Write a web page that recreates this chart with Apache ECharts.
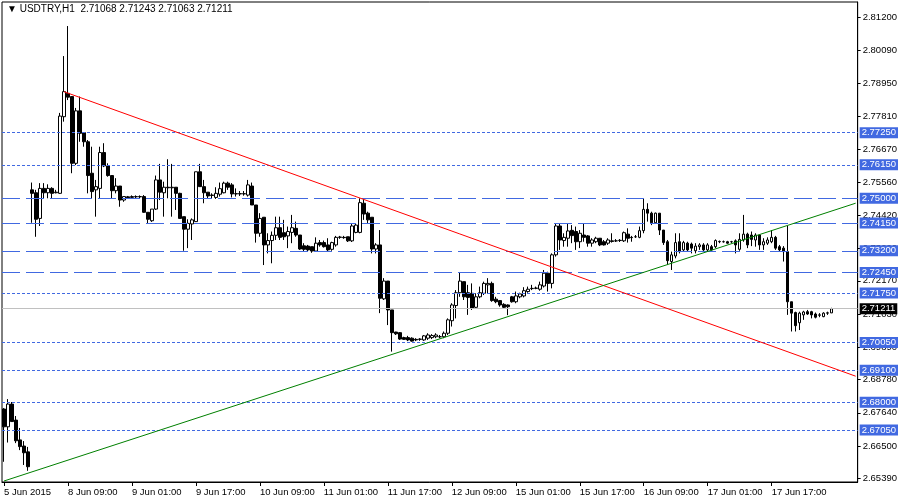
<!DOCTYPE html>
<html>
<head>
<meta charset="utf-8">
<script src="https://cdn.jsdelivr.net/npm/echarts@6/dist/echarts.min.js"></script>
<style>html,body{margin:0;padding:0;background:#fff}#c{width:900px;height:500px}</style>
</head>
<body>
<div id="c"></div>
<script>
// Trading sessions (day label, first hour, last hour) -> hourly categories
const sessions = [
  ['5 Jun', 17, 23], ['8 Jun', 0, 23], ['9 Jun', 0, 23], ['10 Jun', 0, 23],
  ['11 Jun', 0, 23], ['12 Jun', 0, 23], ['15 Jun', 0, 23], ['16 Jun', 0, 23],
  ['17 Jun', 0, 23], ['18 Jun', 0, 14]
];
const firstLabel = '5 Jun 2015';
const labelEvery = 16;
const lastLabelIndex = 192;

const opens = [
2.6777,2.6716,2.6794,2.6739,2.6671,2.6650,2.6630,2.7529,2.7519,2.7431,
2.7534,2.7519,2.7534,2.7519,2.7517,2.7780,2.7860,2.7849,2.7620,2.7800,
2.7725,2.7694,2.7586,2.7529,2.7534,2.7657,2.7611,2.7578,2.7526,2.7542,
2.7494,2.7505,2.7503,2.7505,2.7506,2.7506,2.7452,2.7423,2.7463,2.7563,
2.7519,2.7538,2.7536,2.7538,2.7517,2.7437,2.7394,2.7412,2.7420,2.7591,
2.7540,2.7521,2.7511,2.7503,2.7514,2.7519,2.7552,2.7546,2.7515,2.7516,
2.7515,2.7511,2.7542,2.7477,2.7380,2.7435,2.7340,2.7355,2.7373,2.7399,
2.7382,2.7371,2.7383,2.7397,2.7374,2.7337,2.7336,2.7334,2.7319,2.7348,
2.7348,2.7340,2.7325,2.7340,2.7366,2.7366,2.7368,2.7354,2.7383,2.7383,
2.7483,2.7449,2.7435,2.7326,2.7340,2.7155,2.7216,2.7117,2.7041,2.7039,
2.7022,2.7022,2.7020,2.7016,2.7016,2.7014,2.7020,2.7022,2.7025,2.7025,
2.7025,2.7037,2.7080,2.7132,2.7176,2.7214,2.7176,2.7174,2.7126,2.7162,
2.7174,2.7203,2.7208,2.7154,2.7149,2.7136,2.7134,2.7162,2.7145,2.7162,
2.7165,2.7180,2.7190,2.7191,2.7188,2.7199,2.7243,2.7208,2.7306,2.7405,
2.7355,2.7363,2.7390,2.7386,2.7351,2.7374,2.7371,2.7346,2.7351,2.7363,
2.7351,2.7346,2.7354,2.7354,2.7355,2.7354,2.7377,2.7366,2.7368,2.7366,
2.7389,2.7462,2.7449,2.7416,2.7449,2.7391,2.7351,2.7283,2.7302,2.7351,
2.7323,2.7346,2.7343,2.7320,2.7334,2.7340,2.7323,2.7334,2.7334,2.7351,
2.7351,2.7351,2.7351,2.7354,2.7325,2.7357,2.7377,2.7374,2.7357,2.7374,
2.7340,2.7346,2.7351,2.7366,2.7334,2.7329,2.7317,2.7145,2.7108,2.7073,
2.7100,2.7111,2.7111,2.7103,2.7100,2.7094,2.7106,2.71068
];
const highs = [
2.6780,2.6811,2.6801,2.6753,2.6712,2.6667,2.6647,2.7554,2.7529,2.7552,
2.7552,2.7548,2.7538,2.7529,2.7793,2.7988,2.8091,2.7849,2.7810,2.7849,
2.7725,2.7700,2.7677,2.7563,2.7677,2.7689,2.7620,2.7578,2.7569,2.7542,
2.7506,2.7508,2.7510,2.7510,2.7510,2.7511,2.7452,2.7463,2.7578,2.7618,
2.7557,2.7634,2.7618,2.7538,2.7519,2.7437,2.7428,2.7431,2.7591,2.7618,
2.7563,2.7521,2.7517,2.7538,2.7554,2.7557,2.7557,2.7552,2.7534,2.7525,
2.7525,2.7563,2.7554,2.7477,2.7449,2.7435,2.7380,2.7386,2.7437,2.7437,
2.7426,2.7403,2.7443,2.7420,2.7374,2.7346,2.7340,2.7334,2.7366,2.7357,
2.7355,2.7363,2.7351,2.7371,2.7371,2.7371,2.7368,2.7412,2.7414,2.7500,
2.7497,2.7454,2.7435,2.7346,2.7391,2.7226,2.7216,2.7117,2.7042,2.7041,
2.7025,2.7028,2.7023,2.7020,2.7020,2.7031,2.7037,2.7034,2.7037,2.7031,
2.7043,2.7088,2.7140,2.7185,2.7245,2.7214,2.7203,2.7208,2.7174,2.7197,
2.7214,2.7226,2.7214,2.7162,2.7151,2.7140,2.7136,2.7165,2.7180,2.7176,
2.7195,2.7197,2.7203,2.7197,2.7214,2.7254,2.7248,2.7311,2.7414,2.7414,
2.7380,2.7414,2.7408,2.7403,2.7391,2.7414,2.7374,2.7363,2.7368,2.7363,
2.7357,2.7363,2.7380,2.7360,2.7360,2.7386,2.7397,2.7371,2.7374,2.7403,
2.7500,2.7483,2.7454,2.7451,2.7449,2.7391,2.7357,2.7317,2.7380,2.7380,
2.7354,2.7351,2.7348,2.7346,2.7346,2.7346,2.7346,2.7340,2.7359,2.7355,
2.7355,2.7354,2.7354,2.7359,2.7380,2.7443,2.7382,2.7386,2.7380,2.7374,
2.7363,2.7366,2.7391,2.7371,2.7340,2.7336,2.7405,2.7145,2.7111,2.7111,
2.7114,2.7117,2.7114,2.7108,2.7106,2.7109,2.7111,2.71243
];
const lows = [
2.6596,2.6662,2.6734,2.6660,2.6636,2.6585,2.6565,2.7416,2.7368,2.7405,
2.7500,2.7500,2.7500,2.7517,2.7515,2.7763,2.7837,2.7586,2.7614,2.7694,
2.7677,2.7517,2.7500,2.7437,2.7500,2.7607,2.7574,2.7500,2.7517,2.7471,
2.7488,2.7499,2.7500,2.7501,2.7500,2.7450,2.7412,2.7419,2.7460,2.7494,
2.7437,2.7500,2.7437,2.7460,2.7431,2.7320,2.7329,2.7357,2.7420,2.7540,
2.7483,2.7500,2.7498,2.7498,2.7506,2.7517,2.7529,2.7503,2.7506,2.7508,
2.7509,2.7506,2.7477,2.7348,2.7368,2.7271,2.7311,2.7277,2.7357,2.7357,
2.7357,2.7329,2.7346,2.7368,2.7323,2.7317,2.7317,2.7313,2.7317,2.7334,
2.7331,2.7319,2.7320,2.7334,2.7361,2.7361,2.7350,2.7350,2.7380,2.7380,
2.7426,2.7414,2.7311,2.7311,2.7106,2.7151,2.7065,2.6974,2.7031,2.7014,
2.7014,2.7010,2.7008,2.7010,2.7011,2.7011,2.7014,2.7017,2.7020,2.7020,
2.7020,2.7031,2.7060,2.7088,2.7162,2.7151,2.7100,2.7117,2.7123,2.7157,
2.7168,2.7174,2.7145,2.7140,2.7128,2.7123,2.7099,2.7142,2.7140,2.7157,
2.7160,2.7176,2.7185,2.7188,2.7183,2.7194,2.7180,2.7191,2.7300,2.7323,
2.7334,2.7334,2.7346,2.7323,2.7329,2.7351,2.7334,2.7334,2.7346,2.7336,
2.7338,2.7340,2.7348,2.7350,2.7350,2.7350,2.7348,2.7351,2.7364,2.7363,
2.7380,2.7420,2.7408,2.7412,2.7374,2.7340,2.7271,2.7254,2.7294,2.7311,
2.7317,2.7317,2.7311,2.7311,2.7323,2.7319,2.7317,2.7320,2.7329,2.7346,
2.7348,2.7344,2.7347,2.7311,2.7320,2.7351,2.7329,2.7336,2.7334,2.7323,
2.7323,2.7340,2.7346,2.7323,2.7317,2.7283,2.7100,2.7043,2.7043,2.7048,
2.7083,2.7100,2.7088,2.7088,2.7092,2.7092,2.7100,2.71063
];
const closes = [
2.6716,2.6794,2.6734,2.6668,2.6648,2.6627,2.6579,2.7517,2.7428,2.7534,
2.7519,2.7534,2.7517,2.7521,2.7782,2.7866,2.7847,2.7620,2.7800,2.7723,
2.7694,2.7578,2.7523,2.7540,2.7657,2.7611,2.7578,2.7526,2.7542,2.7494,
2.7506,2.7502,2.7506,2.7506,2.7505,2.7452,2.7428,2.7463,2.7563,2.7521,
2.7538,2.7536,2.7538,2.7517,2.7431,2.7394,2.7414,2.7426,2.7591,2.7540,
2.7519,2.7508,2.7510,2.7517,2.7533,2.7552,2.7538,2.7515,2.7516,2.7515,
2.7516,2.7546,2.7477,2.7380,2.7431,2.7340,2.7355,2.7373,2.7399,2.7366,
2.7368,2.7386,2.7399,2.7374,2.7326,2.7325,2.7323,2.7319,2.7346,2.7340,
2.7334,2.7323,2.7348,2.7366,2.7367,2.7365,2.7354,2.7405,2.7408,2.7485,
2.7446,2.7426,2.7326,2.7340,2.7157,2.7216,2.7117,2.7039,2.7035,2.7017,
2.7016,2.7014,2.7010,2.7014,2.7017,2.7028,2.7031,2.7029,2.7031,2.7025,
2.7037,2.7083,2.7134,2.7176,2.7216,2.7162,2.7160,2.7123,2.7162,2.7176,
2.7208,2.7208,2.7149,2.7145,2.7134,2.7126,2.7128,2.7145,2.7165,2.7172,
2.7183,2.7188,2.7191,2.7192,2.7203,2.7243,2.7208,2.7306,2.7405,2.7357,
2.7366,2.7388,2.7372,2.7351,2.7380,2.7366,2.7346,2.7357,2.7363,2.7340,
2.7340,2.7357,2.7352,2.7354,2.7356,2.7382,2.7363,2.7365,2.7368,2.7389,
2.7462,2.7449,2.7416,2.7449,2.7391,2.7348,2.7286,2.7306,2.7348,2.7317,
2.7348,2.7323,2.7329,2.7336,2.7340,2.7323,2.7340,2.7323,2.7355,2.7352,
2.7351,2.7346,2.7351,2.7340,2.7359,2.7377,2.7340,2.7359,2.7374,2.7340,
2.7351,2.7357,2.7366,2.7329,2.7323,2.7317,2.7145,2.7106,2.7063,2.7106,
2.7110,2.7103,2.7100,2.7092,2.7099,2.7106,2.7107,2.71211
];

// Price-axis tick labels
const yTicks = [2.81200,2.80090,2.78950,2.77810,2.76670,2.75560,2.74420,2.73290,
                2.72170,2.71030,2.69890,2.68780,2.67640,2.66500,2.65390];
const yMin = 2.65266, yMax = 2.81735;

// Horizontal levels
const keyLevels = [2.75000, 2.74150, 2.73200, 2.72450];
const minorLevels = [2.77250, 2.76150, 2.71750, 2.70050, 2.69100, 2.68000, 2.67050];
const lastPrice = 2.71211;

// Trend lines: [category index, price]
const resistanceLine = [[15, 2.78657], [213, 2.68896]];
const supportLine = [[0, 2.65300], [213, 2.74832]];

const header = '\u25BC USDTRY,H1  2.71068 2.71243 2.71063 2.71211';

// ---- build ----
const categories = [];
sessions.forEach(function (s) {
  for (let h = s[1]; h <= s[2]; h++) {
    categories.push(s[0] + ' ' + (h < 10 ? '0' : '') + h + ':00');
  }
});
const candles = opens.map(function (o, i) { return [o, closes[i], lows[i], highs[i]]; });

const FONT = 'Liberation Sans';
const BLUE = '#4169E1';
const showIdx = function (i) { return i % labelEvery === 0 && i <= lastLabelIndex; };

function levelItem(v, dash) {
  return {
    yAxis: v,
    lineStyle: { color: BLUE, width: 1, type: dash },
    label: {
      show: true, position: 'end', distance: 2,
      formatter: function () { return v.toFixed(5); },
      color: '#fff', backgroundColor: BLUE, padding: [1, 2, 0, 2],
      fontSize: 9.5, fontFamily: FONT
    }
  };
}
const markData = [];
keyLevels.forEach(function (v) { markData.push(levelItem(v, [18, 6])); });
minorLevels.forEach(function (v) { markData.push(levelItem(v, [3, 2])); });
markData.push({
  yAxis: lastPrice,
  lineStyle: { color: '#c0c0c0', width: 1, type: 'solid' },
  label: {
    show: true, position: 'end', distance: 2,
    formatter: function () { return lastPrice.toFixed(5); },
    color: '#fff', backgroundColor: '#000', padding: [1, 2, 0, 2],
    fontSize: 9.5, fontFamily: FONT
  }
});
function trend(pts, color) {
  return [
    { coord: [categories[pts[0][0]], pts[0][1]], lineStyle: { color: color, width: 1, type: 'solid' }, label: { show: false } },
    { coord: [categories[pts[1][0]], pts[1][1]] }
  ];
}
markData.push(trend(resistanceLine, '#ff0000'));
markData.push(trend(supportLine, '#008000'));

const chart = echarts.init(document.getElementById('c'), null, { renderer: 'canvas' });
chart.setOption({
  animation: false,
  backgroundColor: '#fff',
  title: {
    text: header, left: 7, top: 4, padding: 0,
    textStyle: { fontSize: 10, fontWeight: 'normal', fontFamily: FONT, color: '#000' }
  },
  grid: { left: 2, right: 42, top: 2, bottom: 18, show: true, borderColor: '#000', borderWidth: 1, backgroundColor: '#fff' },
  xAxis: {
    type: 'category', data: categories, boundaryGap: true,
    axisLine: { show: true, lineStyle: { color: '#000', width: 1 } },
    axisTick: { show: true, alignWithLabel: true, length: 4, interval: showIdx, lineStyle: { color: '#000' } },
    axisLabel: {
      interval: showIdx, align: 'left', margin: 5, color: '#000', fontSize: 9.5, fontFamily: FONT,
      formatter: function (v, i) { return i === 0 ? firstLabel : v; }
    },
    splitLine: { show: false }
  },
  yAxis: {
    type: 'value', position: 'right', min: yMin, max: yMax,
    axisLine: { show: true, lineStyle: { color: '#000', width: 1 } },
    axisTick: { show: true, inside: false, length: 3, customValues: yTicks, lineStyle: { color: '#000' } },
    axisLabel: {
      customValues: yTicks, margin: 5, color: '#000', fontSize: 9.5, fontFamily: FONT,
      formatter: function (v) { return Number(v).toFixed(5); }
    },
    splitLine: { show: false }
  },
  series: [{
    type: 'candlestick',
    data: candles,
    barWidth: 3,
    clip: false,
    itemStyle: { color: '#fff', color0: '#000', borderColor: '#000', borderColor0: '#000', borderWidth: 1 },
    markLine: { symbol: ['none', 'none'], silent: true, animation: false, precision: 5, data: markData }
  }]
});
</script>
</body>
</html>
